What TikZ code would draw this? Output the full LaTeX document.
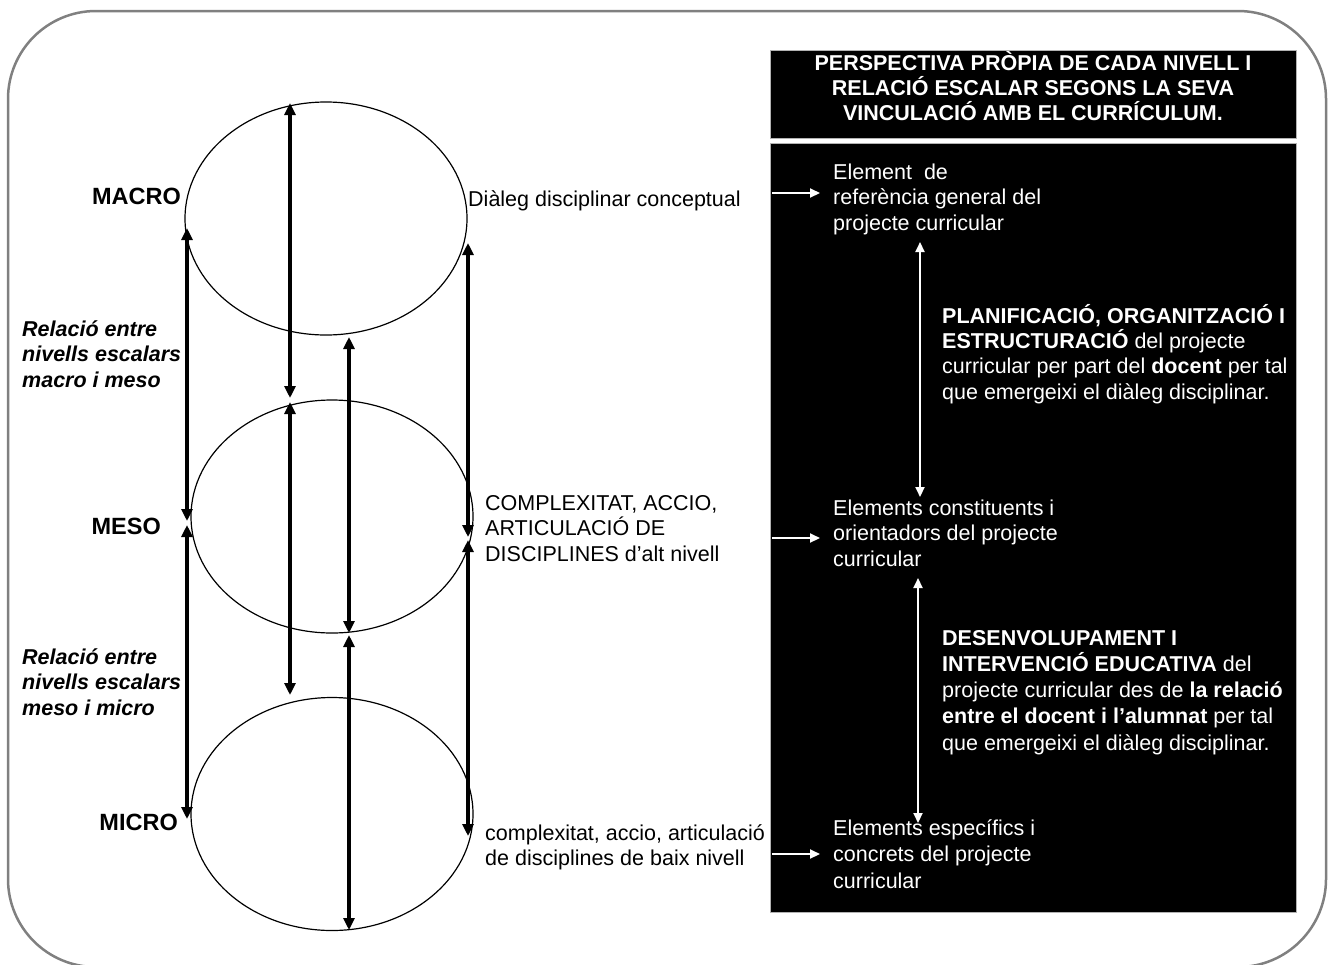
\documentclass[tikz,border=0pt]{standalone}
\usepackage{fontspec}
\setmainfont{Liberation Sans}
\usetikzlibrary{arrows.meta,shapes.geometric}

% strut that fixes the height of the first line of every text block
\newcommand\firstln{\rule{0pt}{21pt}}

\tikzset{
  level/.style={ellipse, draw, line width=1.2pt, minimum width=282pt, minimum height=233pt, inner sep=0pt},
  relarrow/.style={line width=3.5pt,
    {Triangle[length=12pt,width=11pt]}-{Triangle[length=12pt,width=11pt]}},
  whiteto/.style={draw=white, line width=2pt, -{Triangle[length=10pt,width=9pt]}},
  whitetwo/.style={draw=white, line width=2pt,
    {Triangle[length=10pt,width=9pt]}-{Triangle[length=10pt,width=9pt]}},
  txt/.style={font=\fontsize{21.5}{25.5}\selectfont, align=left, inner sep=0pt, anchor=north west},
  wtxt/.style={txt, text=white},
  lvltxt/.style={font=\fontsize{23.5}{27}\selectfont\bfseries, inner sep=0pt, anchor=base east},
  panel/.style={fill=black, draw=gray!60, line width=1pt},
}

\begin{document}
\begin{tikzpicture}[x=1pt, y=-1pt]
  \useasboundingbox (0,0) rectangle (1332,964);

  % outer frame
  \draw[gray, line width=2.5pt, rounded corners=88pt] (8,11) rectangle (1326,967);

  % right-hand panels
  \draw[panel] (770,50) rectangle (1296,138);
  \draw[panel] (770,143) rectangle (1296,912);

  \node[txt, text=white, font=\fontsize{21.5}{25}\selectfont\bfseries, align=center, anchor=north]
    (head) at (1033,49) {\firstln PERSPECTIVA PRÒPIA DE CADA NIVELL I\\
      RELACIÓ ESCALAR SEGONS LA SEVA\\ VINCULACIÓ AMB EL CURRÍCULUM.};

  % scale levels
  \node[level] (macro) at (326,218.5) {};
  \node[level] (meso)  at (332,516.5) {};
  \node[level] (micro) at (332,814) {};

  \node[lvltxt] (lmacro) at (181,204) {MACRO};
  \node[lvltxt] (lmeso)  at (161,534) {MESO};
  \node[lvltxt] (lmicro) at (178,830) {MICRO};

  \node[txt, font=\fontsize{21.5}{25.5}\selectfont\bfseries\itshape] (rel1) at (22,315)
    {\firstln Relació entre\\ nivells escalars\\ macro i meso};
  \node[txt, font=\fontsize{21.5}{25.5}\selectfont\bfseries\itshape] (rel2) at (22,643)
    {\firstln Relació entre\\ nivells escalars\\ meso i micro};

  \node[txt, anchor=base west] (dial) at (468,206) {Diàleg disciplinar conceptual};
  \node[txt] (alt) at (485,489)
    {\firstln COMPLEXITAT, ACCIO,\\ ARTICULACIÓ DE\\ DISCIPLINES d’alt nivell};
  \node[txt] (baix) at (485,819)
    {\firstln complexitat, accio, articulació\\ de disciplines de baix nivell};

  % relations between levels
  \foreach \n/\x/\ya/\yb in {a1/187/228/521, a2/187/525/819,
                             b1/290/103/398, b2/290/402/695,
                             c1/349/337/633, c2/349/635/930,
                             d1/468/243/537, d2/468/540/836} {
    \coordinate (\n t) at (\x,\ya);
    \coordinate (\n b) at (\x,\yb);
    \draw[relarrow] (\n t) -- (\n b);
  }

  % curriculum elements
  \node[wtxt] (e1) at (833,158)
    {\firstln Element\ \ de\\ referència general del\\ projecte curricular};
  \node[wtxt] (e2) at (833,494)
    {\firstln Elements constituents i\\ orientadors del projecte\\ curricular};
  \node[wtxt, font=\fontsize{21.5}{26.5}\selectfont] (e3) at (833,814)
    {\firstln Elements específics i\\ concrets del projecte\\ curricular};

  \node[wtxt, font=\fontsize{21.5}{25.3}\selectfont] (plan) at (942,302)
    {\firstln\textbf{PLANIFICACIÓ, ORGANITZACIÓ I}\\
     \textbf{ESTRUCTURACIÓ} del projecte\\
     curricular per part del \textbf{docent} per tal\\
     que emergeixi el diàleg disciplinar.};
  \node[wtxt, font=\fontsize{21.5}{26.2}\selectfont] (desen) at (942,624)
    {\firstln\textbf{DESENVOLUPAMENT I}\\
     \textbf{INTERVENCIÓ EDUCATIVA} del\\
     projecte curricular des de \textbf{la relació}\\
     \textbf{entre el docent i l’alumnat} per tal\\
     que emergeixi el diàleg disciplinar.};

  % links from each level into its curriculum element
  \foreach \i/\y in {1/193, 2/538, 3/854} {
    \coordinate (h\i s) at (772,\y);
    \coordinate (h\i e) at (820,\y);
    \draw[whiteto] (h\i s) -- (h\i e);
  }

  \coordinate (v1t) at (920,242);
  \coordinate (v1b) at (920,497);
  \coordinate (v2t) at (918,578);
  \coordinate (v2b) at (918,823);
  \draw[whitetwo] (v1t) -- (v1b);
  \draw[whitetwo] (v2t) -- (v2b);
\end{tikzpicture}
\end{document}
